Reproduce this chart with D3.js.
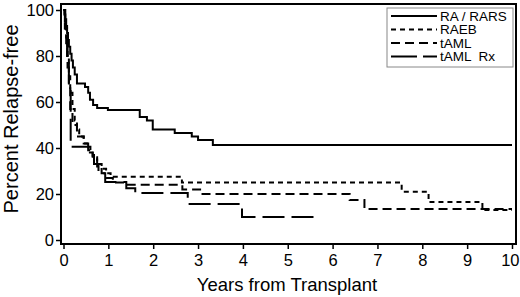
<!DOCTYPE html>
<html><head><meta charset="utf-8">
<script src="https://cdn.jsdelivr.net/npm/d3@7"></script>
<style>body{margin:0;background:#fff}svg{display:block}text{font-family:"Liberation Sans",Arial,sans-serif;fill:#000}</style>
</head><body><svg id="c" width="520" height="297"></svg>
<script>
const seriesNames = ["RA / RARS", "RAEB", "tAML", "tAML  Rx"];
const raTimes = [0,0.02,0.04,0.06,0.08,0.10,0.12,0.15,0.18,0.21,0.25,0.30,0.48,0.55,0.59,0.66,0.75,0.99,1.70,1.86,1.99,2.48,2.86,3.0,3.33,10];
const raValues = [100,98,96,93,90,87,84,81,78,75,72,68,66.5,64,61,58.7,57.4,56.5,53.5,52,48,46.5,45,43.5,41.3,41.3];
const raebTimes = [0,0.03,0.06,0.09,0.12,0.15,0.2,0.25,0.3,0.35,0.45,0.55,0.65,0.75,0.85,0.95,1.05,2.64,7.54,8.14,9.34,10];
const raebValues = [100,95,88,80,72,64,57,52,48,45,42,39,36,33,31,29,27.5,25,21,16.5,13,13];
const tamlTimes = [0,0.03,0.06,0.09,0.12,0.15,0.2,0.3,0.45,0.55,0.65,0.75,0.85,0.95,1.1,1.4,2.65,3.1,6.38,6.71,10];
const tamlValues = [100,92,84,75,66,57,50,45,42,38,35,32,29,27,25,24,22,20,17.4,13.5,13.5];
const rxTimes = [0,0.04,0.08,0.12,0.16,0.6,0.68,0.78,0.93,1.4,1.6,2.77,3.98,5.65];
const rxValues = [100,92,80,66,40.5,37,33,29,25.2,22.5,20.4,15.7,10,10];
const xTicks = [0,1,2,3,4,5,6,7,8,9,10];
const yTicks = [0,20,40,60,80,100];

const dashes = ["none", "5,4", "9,5", "22,7"];
const legendDashes = ["none", "5,4", "9,5", "26,6"];
const series = [[raTimes,raValues],[raebTimes,raebValues],[tamlTimes,tamlValues],[rxTimes,rxValues]];

const svg = d3.select("#c");
const x = d3.scaleLinear().domain([0,10]).range([63.5,512]);
const y = d3.scaleLinear().domain([0,100]).range([240,10]);

svg.append("rect").attr("x",61).attr("y",4).attr("width",455).attr("height",240)
  .attr("fill","none").attr("stroke","#000").attr("stroke-width",2);

const xa = svg.append("g").attr("transform","translate(0,244)")
  .call(d3.axisBottom(x).tickValues(xTicks).tickSize(5).tickPadding(5).tickFormat(d3.format("d")));
xa.select(".domain").remove();
xa.selectAll("line").attr("stroke-width",1.5);
xa.selectAll("text").attr("font-size",16.5).attr("fill","#000");
// keep the last label inside the picture
xa.selectAll("text").filter(d=>d===10).attr("text-anchor","end").attr("x",7);

const ya = svg.append("g").attr("transform","translate(61,0)")
  .call(d3.axisLeft(y).tickValues(yTicks).tickSize(5).tickPadding(2).tickFormat(d3.format("d")));
ya.select(".domain").remove();
ya.selectAll("line").attr("stroke-width",1.5);
ya.selectAll("text").attr("font-size",16.5).attr("fill","#000");

svg.append("text").attr("x",287).attr("y",291).attr("text-anchor","middle")
  .attr("font-size",18.5).text("Years from Transplant");
svg.append("text").attr("transform","translate(18,119) rotate(-90)").attr("text-anchor","middle")
  .attr("font-size",20).text("Percent Relapse-free");

const line = d3.line().x(d=>x(d[0])).y(d=>y(d[1])).curve(d3.curveStepAfter);
series.forEach((s,i)=>{
  const pts = s[0].map((t,j)=>[t,s[1][j]]);
  svg.append("path").attr("d",line(pts)).attr("fill","none").attr("stroke","#000")
    .attr("stroke-width",2).attr("stroke-dasharray",dashes[i]);
});

const lg = svg.append("g");
lg.append("rect").attr("x",387).attr("y",8).attr("width",126).attr("height",59)
  .attr("fill","#fff").attr("stroke","#888").attr("stroke-width",1);
seriesNames.forEach((n,i)=>{
  const yy = 16 + i*13.5;
  lg.append("line").attr("x1",391).attr("x2",437).attr("y1",yy).attr("y2",yy)
    .attr("stroke","#000").attr("stroke-width",2).attr("stroke-dasharray",legendDashes[i]);
  lg.append("text").attr("x",440).attr("y",yy).attr("dy","0.35em").attr("font-size",13.5)
    .style("white-space","pre").text(n);
});
</script></body></html>
